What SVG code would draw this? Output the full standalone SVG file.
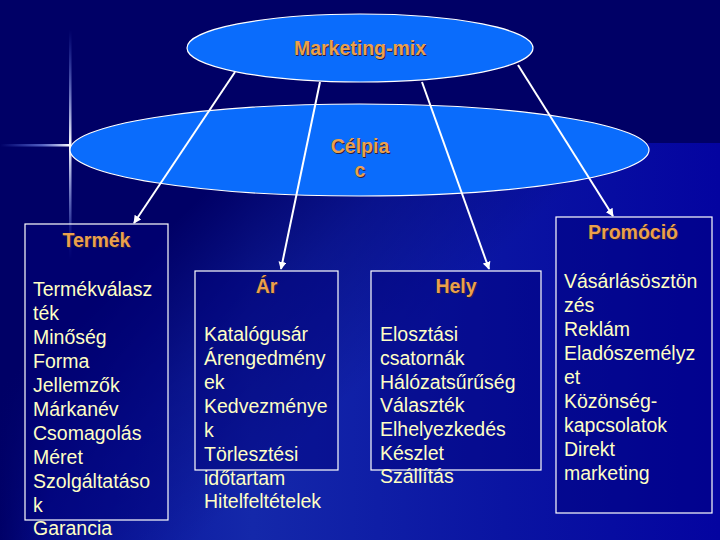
<svg xmlns="http://www.w3.org/2000/svg" width="720" height="540" viewBox="0 0 720 540">
<defs>
  <linearGradient id="lower" x1="0" y1="0" x2="1" y2="0">
    <stop offset="0" stop-color="#00006a"/>
    <stop offset="0.07" stop-color="#08129a"/>
    <stop offset="0.35" stop-color="#1428aa"/>
    <stop offset="0.7" stop-color="#0a14a2"/>
    <stop offset="1" stop-color="#0404a0"/>
  </linearGradient>
  <linearGradient id="fade" gradientUnits="userSpaceOnUse" x1="250" y1="150" x2="420" y2="330">
    <stop offset="0" stop-color="#000066" stop-opacity="1"/>
    <stop offset="0.5" stop-color="#000066" stop-opacity="0.4"/>
    <stop offset="1" stop-color="#000066" stop-opacity="0"/>
  </linearGradient>
  <linearGradient id="flareH" x1="0" y1="0" x2="1" y2="0">
    <stop offset="0" stop-color="#6080ff" stop-opacity="0"/>
    <stop offset="0.6" stop-color="#8aa0ff" stop-opacity="0.6"/>
    <stop offset="1" stop-color="#ffffff" stop-opacity="1"/>
  </linearGradient>
  <linearGradient id="flareV" x1="0" y1="0" x2="0" y2="1">
    <stop offset="0" stop-color="#6080ff" stop-opacity="0"/>
    <stop offset="0.5" stop-color="#ffffff" stop-opacity="1"/>
    <stop offset="1" stop-color="#6080ff" stop-opacity="0"/>
  </linearGradient>
  <marker id="arr" viewBox="0 0 10 10" refX="9" refY="5" markerWidth="4" markerHeight="4" orient="auto" markerUnits="strokeWidth">
    <path d="M0,0 L10,5 L0,10 z" fill="#ffffff"/>
  </marker>
  <style>
    .ell { fill: #0a6cfc; stroke: #ffffff; stroke-width: 1.2; }
    .box { fill: #00007a; fill-opacity: 0.45; stroke: #ffffff; stroke-width: 1.2; }
    .head { font-family: "Liberation Sans", Arial, sans-serif; font-weight: bold; font-size: 19.5px; fill: #eba04c; text-anchor: middle; }
    .shadow { fill: #2a2040; }
    .item { font-family: "Liberation Sans", Arial, sans-serif; font-size: 19.5px; fill: #ffffc4; }
    .conn line { stroke: #ffffff; stroke-width: 2; marker-end: url(#arr); }
  </style>
</defs>

<rect x="0" y="0" width="720" height="540" fill="#000066"/>
<rect x="0" y="143" width="720" height="397" fill="url(#lower)"/>
<rect x="0" y="143" width="720" height="397" fill="url(#fade)"/>

<g id="flare">
  <rect x="0" y="144" width="70" height="2.5" fill="url(#flareH)"/>
  <rect x="69" y="30" width="2.5" height="230" fill="url(#flareV)"/>
</g>

<g id="celpiac">
  <ellipse class="ell" cx="359.5" cy="150" rx="289.5" ry="46"/>
  <text class="head shadow" x="361" y="154">Célpia</text>
  <text class="head" x="360" y="153">Célpia</text>
  <text class="head shadow" x="361" y="178">c</text>
  <text class="head" x="360" y="177">c</text>
</g>

<g id="marketing-mix">
  <ellipse class="ell" cx="360" cy="48" rx="173" ry="34"/>
  <text class="head shadow" x="361" y="56">Marketing-mix</text>
  <text class="head" x="360" y="55">Marketing-mix</text>
</g>

<g class="conn" id="connectors">
  <line x1="235" y1="72" x2="134" y2="223"/>
  <line x1="320" y1="82" x2="281" y2="269"/>
  <line x1="422" y1="82" x2="489" y2="269"/>
  <line x1="518" y1="65" x2="613" y2="216"/>
</g>

<g id="termek">
  <rect class="box" x="25" y="224" width="143" height="296"/>
  <text class="head shadow" x="97.5" y="248">Termék</text>
  <text class="head" x="96.5" y="247">Termék</text>
  <text class="item" x="33" y="296">Termékválasz</text>
  <text class="item" x="33" y="320">ték</text>
  <text class="item" x="33" y="344">Minőség</text>
  <text class="item" x="33" y="368">Forma</text>
  <text class="item" x="33" y="392">Jellemzők</text>
  <text class="item" x="33" y="416">Márkanév</text>
  <text class="item" x="33" y="440">Csomagolás</text>
  <text class="item" x="33" y="464">Méret</text>
  <text class="item" x="33" y="488">Szolgáltatáso</text>
  <text class="item" x="33" y="512">k</text>
  <text class="item" x="33" y="535">Garancia</text>
</g>

<g id="ar">
  <rect class="box" x="195" y="271" width="143" height="199"/>
  <text class="head shadow" x="267.5" y="294">Ár</text>
  <text class="head" x="266.5" y="293">Ár</text>
  <text class="item" x="204" y="341">Katalógusár</text>
  <text class="item" x="204" y="365">Árengedmény</text>
  <text class="item" x="204" y="389">ek</text>
  <text class="item" x="204" y="413">Kedvezménye</text>
  <text class="item" x="204" y="437">k</text>
  <text class="item" x="204" y="461">Törlesztési</text>
  <text class="item" x="204" y="485">időtartam</text>
  <text class="item" x="204" y="508">Hitelfeltételek</text>
</g>

<g id="hely">
  <rect class="box" x="371" y="271" width="170" height="199"/>
  <text class="head shadow" x="457" y="294">Hely</text>
  <text class="head" x="456" y="293">Hely</text>
  <text class="item" x="380" y="341">Elosztási</text>
  <text class="item" x="380" y="365">csatornák</text>
  <text class="item" x="380" y="389">Hálózatsűrűség</text>
  <text class="item" x="380" y="412">Választék</text>
  <text class="item" x="380" y="436">Elhelyezkedés</text>
  <text class="item" x="380" y="460">Készlet</text>
  <text class="item" x="380" y="483">Szállítás</text>
</g>

<g id="promocio">
  <rect class="box" x="556" y="217" width="156" height="296"/>
  <text class="head shadow" x="634" y="240">Promóció</text>
  <text class="head" x="633" y="239">Promóció</text>
  <text class="item" x="564" y="288">Vásárlásösztön</text>
  <text class="item" x="564" y="312">zés</text>
  <text class="item" x="564" y="336">Reklám</text>
  <text class="item" x="564" y="360">Eladószemélyz</text>
  <text class="item" x="564" y="384">et</text>
  <text class="item" x="564" y="408">Közönség-</text>
  <text class="item" x="564" y="432">kapcsolatok</text>
  <text class="item" x="564" y="456">Direkt</text>
  <text class="item" x="564" y="480">marketing</text>
</g>
</svg>
